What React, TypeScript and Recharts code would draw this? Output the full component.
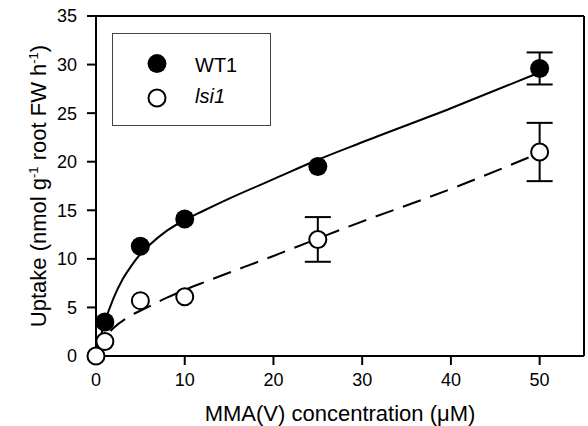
import React from 'react';
import {
  ComposedChart,
  Line,
  Scatter,
  ErrorBar,
  XAxis,
  YAxis,
  ReferenceLine,
  Legend,
  Label,
} from 'recharts';

const FONT = "'Liberation Sans', Arial, Helvetica, sans-serif";

// measured uptake (mean ± error)
const wtPoints = [
  { x: 1, y: 3.5 },
  { x: 5, y: 11.3 },
  { x: 10, y: 14.1 },
  { x: 25, y: 19.5 },
  { x: 50, y: 29.6, err: 1.65 },
];

const lsiPoints = [
  { x: 0, y: 0 },
  { x: 1, y: 1.5 },
  { x: 5, y: 5.7 },
  { x: 10, y: 6.1 },
  { x: 25, y: 12.0, err: 2.3 },
  { x: 50, y: 21.0, err: 3.0 },
];

// fitted curves
const wtFit = [
  { x: 0, y: 0 },
  { x: 0.5, y: 1.9 },
  { x: 1, y: 3.5 },
  { x: 2, y: 6.0 },
  { x: 3, y: 7.9 },
  { x: 4, y: 9.3 },
  { x: 5, y: 10.5 },
  { x: 6, y: 11.4 },
  { x: 8, y: 12.9 },
  { x: 10, y: 14.0 },
  { x: 12, y: 14.9 },
  { x: 15, y: 16.2 },
  { x: 20, y: 18.2 },
  { x: 25, y: 20.2 },
  { x: 30, y: 22.0 },
  { x: 40, y: 25.5 },
  { x: 49.5, y: 29.0 },
];

const lsiFit = [
  { x: 0, y: 0 },
  { x: 0.5, y: 1.1 },
  { x: 1, y: 1.9 },
  { x: 2, y: 2.9 },
  { x: 4, y: 4.2 },
  { x: 6, y: 5.1 },
  { x: 8, y: 6.0 },
  { x: 10, y: 6.8 },
  { x: 12.5, y: 7.7 },
  { x: 20, y: 10.3 },
  { x: 28.7, y: 13.4 },
  { x: 40, y: 17.2 },
  { x: 49.2, y: 20.6 },
];

const xTicks = [0, 10, 20, 30, 40, 50];
const yTicks = [0, 5, 10, 15, 20, 25, 30, 35];
const seriesNames = ['WT1', 'lsi1'];

const FilledDot = (p: any) => <circle cx={p.cx} cy={p.cy} r={9.5} fill="#000" />;
const OpenDot = (p: any) => (
  <circle cx={p.cx} cy={p.cy} r={8.5} fill="#fff" stroke="#000" strokeWidth={2} />
);

const YTitle = (props: any) => {
  const vb = props.viewBox || { x: 0, y: 16, width: 96, height: 340 };
  const cx = vb.x + 45.5;
  const cy = vb.y + vb.height / 2;
  return (
    <text
      x={cx}
      y={cy}
      transform={`rotate(-90 ${cx} ${cy})`}
      textAnchor="middle"
      fontFamily={FONT}
      fontSize={22}
      fill="#000"
    >
      Uptake (nmol g
      <tspan dy={-8} fontSize={13}>-1</tspan>
      <tspan dy={8}> root FW h</tspan>
      <tspan dy={-8} fontSize={13}>-1</tspan>
      <tspan dy={8}>)</tspan>
    </text>
  );
};

const LegendBox = () => (
  <div
    style={{
      width: 159,
      height: 93,
      border: '1px solid #444',
      boxSizing: 'border-box',
      background: '#fff',
    }}
  >
    <svg width={157} height={91} style={{ display: 'block' }}>
      <circle cx={44} cy={29.6} r={9.5} fill="#000" />
      <circle cx={44} cy={64} r={8.5} fill="#fff" stroke="#000" strokeWidth={2} />
      <text x={82} y={37.6} fontFamily={FONT} fontSize={20} fill="#000">
        {seriesNames[0]}
      </text>
      <text x={82} y={69} fontFamily={FONT} fontSize={20} fontStyle="italic" fill="#000">
        {seriesNames[1]}
      </text>
    </svg>
  </div>
);

const axisStyle = { stroke: '#000', strokeWidth: 2 };
const tickStyle = { fill: '#000', fontSize: 18, fontFamily: FONT };

export default function App() {
  return (
    <div style={{ position: 'absolute', left: 0, top: 0, width: 588, height: 426, background: '#fff' }}>
      <ComposedChart
        width={588}
        height={426}
        margin={{ top: 16, right: 4, left: 0, bottom: 0 }}
      >
        <XAxis
          type="number"
          dataKey="x"
          domain={[0, 55]}
          ticks={xTicks}
          axisLine={axisStyle}
          tickLine={axisStyle}
          tickSize={9}
          tickMargin={8}
          tick={tickStyle}
          height={70}
        >
          <Label
            value="MMA(V) concentration (μM)"
            position="insideBottom"
            offset={5}
            fill="#000"
            style={{ fontSize: 22, fontFamily: FONT, fill: '#000' }}
          />
        </XAxis>
        <YAxis
          type="number"
          dataKey="y"
          domain={[0, 35]}
          ticks={yTicks}
          axisLine={axisStyle}
          tickLine={axisStyle}
          tickSize={9}
          tickMargin={10}
          tick={tickStyle}
          width={96}
        >
          <Label content={YTitle} />
        </YAxis>
        <ReferenceLine y={35} stroke="#000" strokeWidth={2} />
        <ReferenceLine x={55} stroke="#000" strokeWidth={2} />

        <Scatter name={seriesNames[0]} data={wtPoints} dataKey="y" shape={FilledDot} isAnimationActive={false}>
          <ErrorBar dataKey="err" direction="y" width={13} stroke="#000" strokeWidth={2} />
        </Scatter>
        <Scatter name={seriesNames[1]} data={lsiPoints} dataKey="y" shape={OpenDot} isAnimationActive={false}>
          <ErrorBar dataKey="err" direction="y" width={13} stroke="#000" strokeWidth={2} />
        </Scatter>

        <Line
          data={wtFit}
          dataKey="y"
          type="monotone"
          stroke="#000"
          strokeWidth={2}
          dot={false}
          activeDot={false}
          legendType="none"
          isAnimationActive={false}
        />
        <Line
          data={lsiFit}
          dataKey="y"
          type="monotone"
          stroke="#000"
          strokeWidth={2}
          strokeDasharray="19 10"
          dot={false}
          activeDot={false}
          legendType="none"
          isAnimationActive={false}
        />

        <Legend
          layout="vertical"
          align="center"
          verticalAlign="middle"
          content={LegendBox}
          wrapperStyle={{ left: 112, top: 33, width: 159, height: 93 }}
        />
      </ComposedChart>
    </div>
  );
}
